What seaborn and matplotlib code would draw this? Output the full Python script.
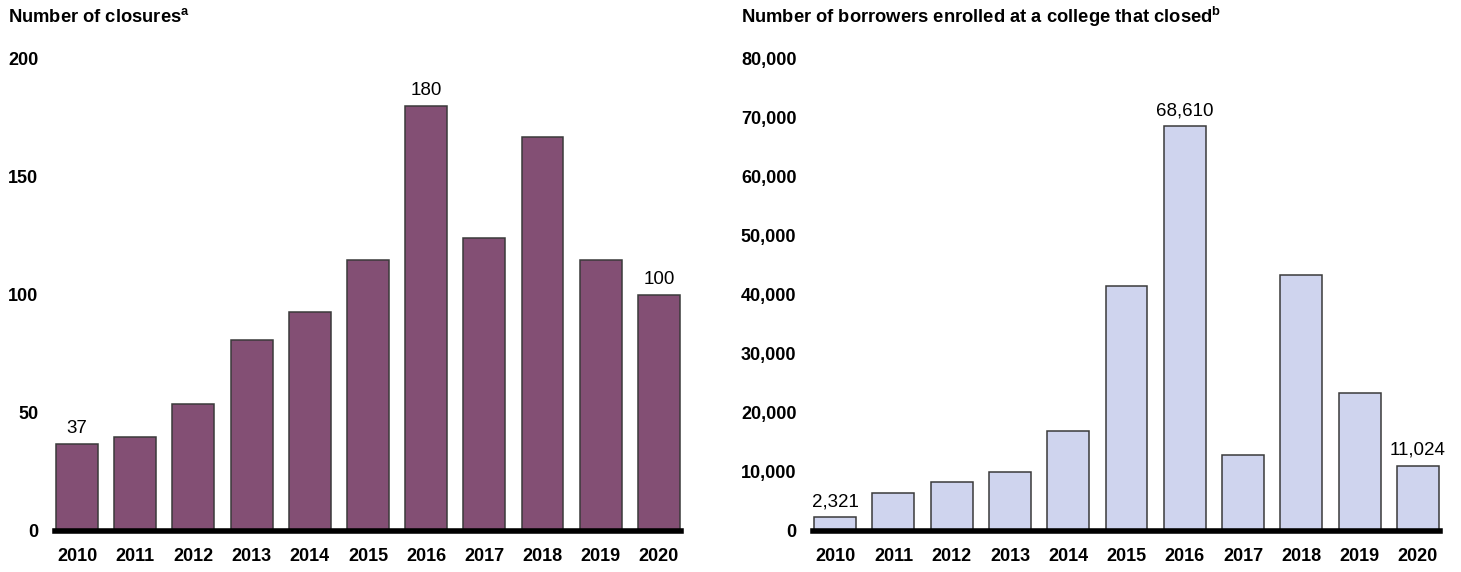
import numpy as np
import pandas as pd
import matplotlib
matplotlib.use("Agg")
import matplotlib.pyplot as plt
import seaborn as sns

years = [str(y) for y in range(2010, 2021)]
closures = [37, 40, 54, 81, 93, 115, 180, 124, 167, 115, 100]
borrowers = [2321, 6400, 8300, 10000, 17000, 41500, 68610, 12850, 43400, 23350, 11024]

closure_ticks = [0, 50, 100, 150, 200]
borrower_ticks = list(range(0, 80001, 10000))

# only the first, peak and last bars carry a number
closure_labels = ["37", "", "", "", "", "", "180", "", "", "", "100"]
borrower_labels = ["2,321", "", "", "", "", "", "68,610", "", "", "", "11,024"]

sns.set_style("white")
plt.rcParams['font.family'] = ['Liberation Sans', 'DejaVu Sans']
plt.rcParams['text.color'] = 'black'
plt.rcParams['xtick.color'] = 'black'
plt.rcParams['ytick.color'] = 'black'
plt.rcParams['mathtext.fontset'] = 'custom'
plt.rcParams['mathtext.bf'] = 'Liberation Sans:bold'
plt.rcParams['mathtext.rm'] = 'Liberation Sans'

fig = plt.figure(figsize=(14.61, 5.72), dpi=100)
ax1 = fig.add_axes([0.0376, 0.0717, 0.4285, 0.8252])
ax2 = fig.add_axes([0.5565, 0.0717, 0.4291, 0.8252])


def draw(ax, vals, color, ticks, labels, fmt):
    df = pd.DataFrame({"year": years, "value": vals})
    sns.barplot(data=df, x="year", y="value", color=color, width=0.72,
                edgecolor="#3a3a3a", linewidth=1.1, saturation=1, ax=ax)
    ax.bar_label(ax.containers[0], labels=labels, padding=5, fontsize=13.5, color="black")
    ax.set_xlim(-0.38, 10.38)
    ax.set_ylim(0, ticks[-1])
    ax.set_yticks(ticks)
    ax.set_yticklabels([fmt(t) for t in ticks], fontweight="bold", fontsize=13)
    ax.set_xticks(range(len(years)))
    ax.set_xticklabels(years, fontweight="bold", fontsize=13)
    ax.tick_params(axis="y", length=0, pad=12, labelcolor="black")
    ax.tick_params(axis="x", length=0, pad=12.5, labelcolor="black")
    ax.set_xlabel("")
    ax.set_ylabel("")
    for s in ["top", "right", "left"]:
        ax.spines[s].set_visible(False)
    ax.spines["bottom"].set_linewidth(4)
    ax.spines["bottom"].set_color("black")
    ax.spines["bottom"].set_zorder(5)


draw(ax1, closures, "#834F74", closure_ticks, closure_labels, lambda t: f"{t}")
draw(ax2, borrowers, "#CFD4EE", borrower_ticks, borrower_labels, lambda t: f"{t:,}")

fig.text(8 / 1461, 0.970, r"Number of closures$^\mathbf{a}$", fontsize=13.2,
         fontweight="bold", va="center", ha="left", color="black")
fig.text(741 / 1461, 0.970, r"Number of borrowers enrolled at a college that closed$^\mathbf{b}$",
         fontsize=13.2, fontweight="bold", va="center", ha="left", color="black")

fig.savefig("out.png", dpi=100)
